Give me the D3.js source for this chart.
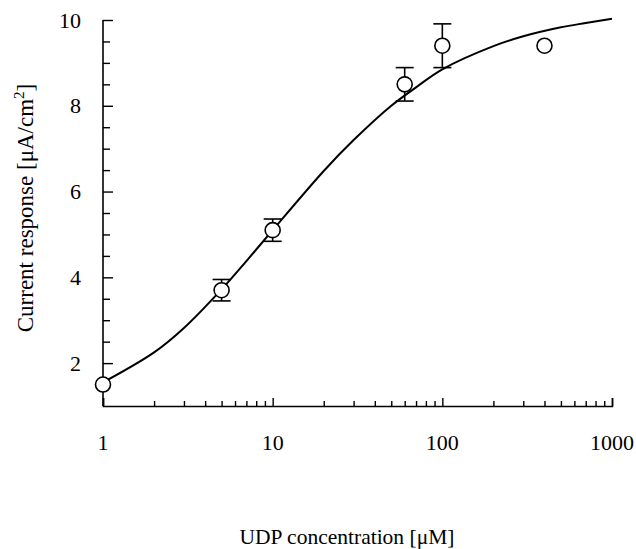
<!DOCTYPE html>
<html>
<head>
<meta charset="utf-8">
<script src="https://cdn.jsdelivr.net/npm/d3@7"></script>
<style>
  html, body { margin: 0; padding: 0; background: #fff; }
  svg { display: block; }
  text { font-family: "Liberation Serif", "DejaVu Serif", serif; fill: #000; }
</style>
</head>
<body>
<script>
// ---- data ----
const concentrations = [1, 5, 10, 60, 100, 400];          // UDP concentration [µM]
const responses      = [1.5, 3.7, 5.1, 8.5, 9.4, 9.4];     // current response [µA/cm²]
const errors         = [0, 0.25, 0.26, 0.39, 0.51, 0];     // error bar half-lengths

// fitted curve
const curveX = [1, 2, 3, 5, 7, 10, 20, 30, 50, 70, 100, 200, 300, 500, 700, 1000];
const curveY = [1.55, 2.25, 2.82, 3.72, 4.38, 5.1, 6.48, 7.2, 8.0, 8.43, 8.85, 9.39, 9.62, 9.83, 9.93, 10.03];

const xTickLabels = [1, 10, 100, 1000];
const yTickLabels = [2, 4, 6, 8, 10];
const yMinorTicks = [1.5, 2.5, 3, 3.5, 4.5, 5, 5.5, 6.5, 7, 7.5, 8.5, 9, 9.5];
const xMinorTicks = [2,3,4,5,6,7,8,9,20,30,40,50,60,70,80,90,200,300,400,500,600,700,800,900];

const xTitle = "UDP concentration [\u03BCM]";

// ---- layout ----
const W = 636, H = 549;
const mLeft = 103, mRight = 612, mTop = 20, mBottom = 406;

const svg = d3.select("body").append("svg").attr("width", W).attr("height", H);

const x = d3.scaleLog().domain([1, 1000]).range([mLeft, mRight]);
const y = d3.scaleLinear().domain([1, 10]).range([mBottom, mTop]);

// axes
const xAxis = d3.axisTop(x).tickValues(xTickLabels).tickSize(8).tickFormat("");
const xAxisMinor = d3.axisTop(x).tickValues(xMinorTicks).tickSize(5).tickFormat("");
const yAxis = d3.axisRight(y).tickValues(yTickLabels).tickSize(10).tickFormat("");
const yAxisMinor = d3.axisRight(y).tickValues(yMinorTicks).tickSize(7).tickFormat("");

function styleAxis(g) {
  g.select(".domain").attr("stroke", "#000").attr("stroke-width", 1.6);
  g.selectAll(".tick line").attr("stroke", "#000").attr("stroke-width", 1.4);
}

svg.append("g").attr("transform", `translate(0,${mBottom})`).call(xAxis).call(styleAxis);
svg.append("g").attr("transform", `translate(0,${mBottom})`).call(xAxisMinor).call(g => g.select(".domain").remove()).call(styleAxis);
svg.append("g").attr("transform", `translate(${mLeft},0)`).call(yAxis).call(styleAxis)
  .call(g => g.select(".domain").attr("d", `M0,${mTop}V${mBottom}`));
svg.append("g").attr("transform", `translate(${mLeft},0)`).call(yAxisMinor).call(g => g.select(".domain").remove()).call(styleAxis);

// tick labels
svg.append("g").selectAll("text").data(xTickLabels).join("text")
  .attr("x", d => x(d)).attr("y", 450)
  .attr("text-anchor", "middle").attr("font-size", 22)
  .text(d => d);

svg.append("g").selectAll("text").data(yTickLabels).join("text")
  .attr("x", 81).attr("y", d => y(d)).attr("dy", "0.35em")
  .attr("text-anchor", "end").attr("font-size", 22)
  .text(d => d);

// axis titles
const yt = svg.append("text")
  .attr("transform", `translate(33,208) rotate(-90)`)
  .attr("text-anchor", "middle").attr("font-size", 23);
yt.append("tspan").text("Current response [\u03BCA/cm");
yt.append("tspan").attr("font-size", 15).attr("dy", -9).text("2");
yt.append("tspan").attr("dy", 9).text("]");

svg.append("text").attr("x", 347).attr("y", 544)
  .attr("text-anchor", "middle").attr("font-size", 21.5)
  .text(xTitle);

// fitted curve
const line = d3.line().x(d => x(d[0])).y(d => y(d[1])).curve(d3.curveCatmullRom);
svg.append("path")
  .datum(d3.zip(curveX, curveY))
  .attr("d", line)
  .attr("fill", "none").attr("stroke", "#000").attr("stroke-width", 2);

// error bars
const pts = d3.zip(concentrations, responses, errors);
const eb = svg.append("g").attr("stroke", "#000").attr("stroke-width", 1.6);
pts.filter(d => d[2] > 0).forEach(d => {
  const cx = x(d[0]);
  eb.append("line").attr("x1", cx).attr("x2", cx).attr("y1", y(d[1] - d[2])).attr("y2", y(d[1] + d[2]));
  eb.append("line").attr("x1", cx - 9).attr("x2", cx + 9).attr("y1", y(d[1] + d[2])).attr("y2", y(d[1] + d[2]));
  eb.append("line").attr("x1", cx - 9).attr("x2", cx + 9).attr("y1", y(d[1] - d[2])).attr("y2", y(d[1] - d[2]));
});

// points
svg.append("g").selectAll("circle").data(pts).join("circle")
  .attr("cx", d => x(d[0])).attr("cy", d => y(d[1])).attr("r", 7.5)
  .attr("fill", "#fff").attr("stroke", "#000").attr("stroke-width", 1.6);
</script>
</body>
</html>
